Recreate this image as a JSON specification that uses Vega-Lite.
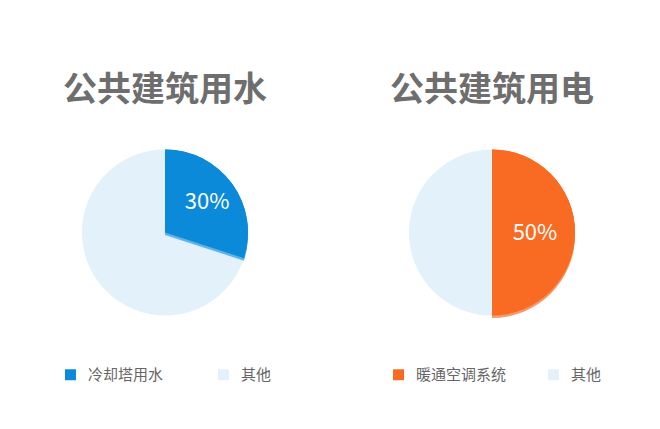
{
  "$schema": "https://vega.github.io/schema/vega-lite/v6.json",
  "background": "white",
  "padding": {"top": 74, "left": 0, "right": 0, "bottom": 0},
  "spacing": 0,
  "config": {
    "view": {"stroke": null},
    "font": "Noto Sans CJK SC",
    "title": {"fontSize": 34, "fontWeight": "bold", "color": "#6e6e6e", "anchor": "middle", "offset": 17, "font": "Noto Sans CJK SC"},
    "legend": {
      "orient": "none", "direction": "horizontal", "symbolType": "square", "symbolSize": 121,
      "symbolStrokeWidth": 0, "labelFontSize": 15, "labelColor": "#666666", "labelFont": "Noto Sans CJK SC",
      "labelOffset": 10, "title": null, "padding": 0, "legendY": 242
    }
  },
  "datasets": {
    "water": [
      {"category": "冷却塔用水", "share": 30, "rank": 1, "label": "30%"},
      {"category": "其他", "share": 70, "rank": 2, "label": ""}
    ],
    "power": [
      {"category": "暖通空调系统", "share": 50, "rank": 1, "label": "50%"},
      {"category": "其他", "share": 50, "rank": 2, "label": ""}
    ]
  },
  "hconcat": [
    {
      "data": {"name": "water"},
      "width": 330,
      "height": 215,
      "title": "公共建筑用水",
      "encoding": {
        "theta": {"field": "share", "type": "quantitative", "stack": true, "scale": {"domain": [0, 100]}},
        "order": {"field": "rank", "type": "ordinal"}
      },
      "layer": [
        {
          "mark": {"type": "arc", "outerRadius": 83},
          "encoding": {
            "color": {
              "field": "category", "type": "nominal",
              "scale": {"domain": ["冷却塔用水", "其他"], "range": ["#0a8ad9", "#e2f1fa"]},
              "legend": {"legendX": 63, "columnPadding": 52}
            }
          }
        },
        {
          "transform": [{"filter": "datum.rank == 1"}],
          "mark": {"type": "arc", "outerRadius": 83, "yOffset": 2.5, "color": "#5fb3ea"}
        },
        {
          "transform": [{"filter": "datum.rank == 1"}],
          "mark": {"type": "arc", "outerRadius": 83, "color": "#0a8ad9"}
        },
        {
          "mark": {"type": "text", "radius": 52, "fontSize": 22, "color": "white"},
          "encoding": {"text": {"field": "label"}}
        }
      ]
    },
    {
      "data": {"name": "power"},
      "width": 324,
      "height": 215,
      "title": "公共建筑用电",
      "encoding": {
        "theta": {"field": "share", "type": "quantitative", "stack": true, "scale": {"domain": [0, 100]}},
        "order": {"field": "rank", "type": "ordinal"}
      },
      "layer": [
        {
          "mark": {"type": "arc", "outerRadius": 83},
          "encoding": {
            "color": {
              "field": "category", "type": "nominal",
              "scale": {"domain": ["暖通空调系统", "其他"], "range": ["#f96b22", "#e2f1fa"]},
              "legend": {"legendX": 61, "columnPadding": 39}
            }
          }
        },
        {
          "transform": [{"filter": "datum.rank == 1"}],
          "mark": {"type": "arc", "outerRadius": 83, "yOffset": 2.5, "color": "#f59a6e"}
        },
        {
          "transform": [{"filter": "datum.rank == 1"}],
          "mark": {"type": "arc", "outerRadius": 83, "color": "#f96b22"}
        },
        {
          "mark": {"type": "text", "radius": 43, "fontSize": 22, "color": "white"},
          "encoding": {"text": {"field": "label"}}
        }
      ]
    }
  ],
  "resolve": {"scale": {"color": "independent", "theta": "independent"}, "legend": {"color": "independent"}}
}
